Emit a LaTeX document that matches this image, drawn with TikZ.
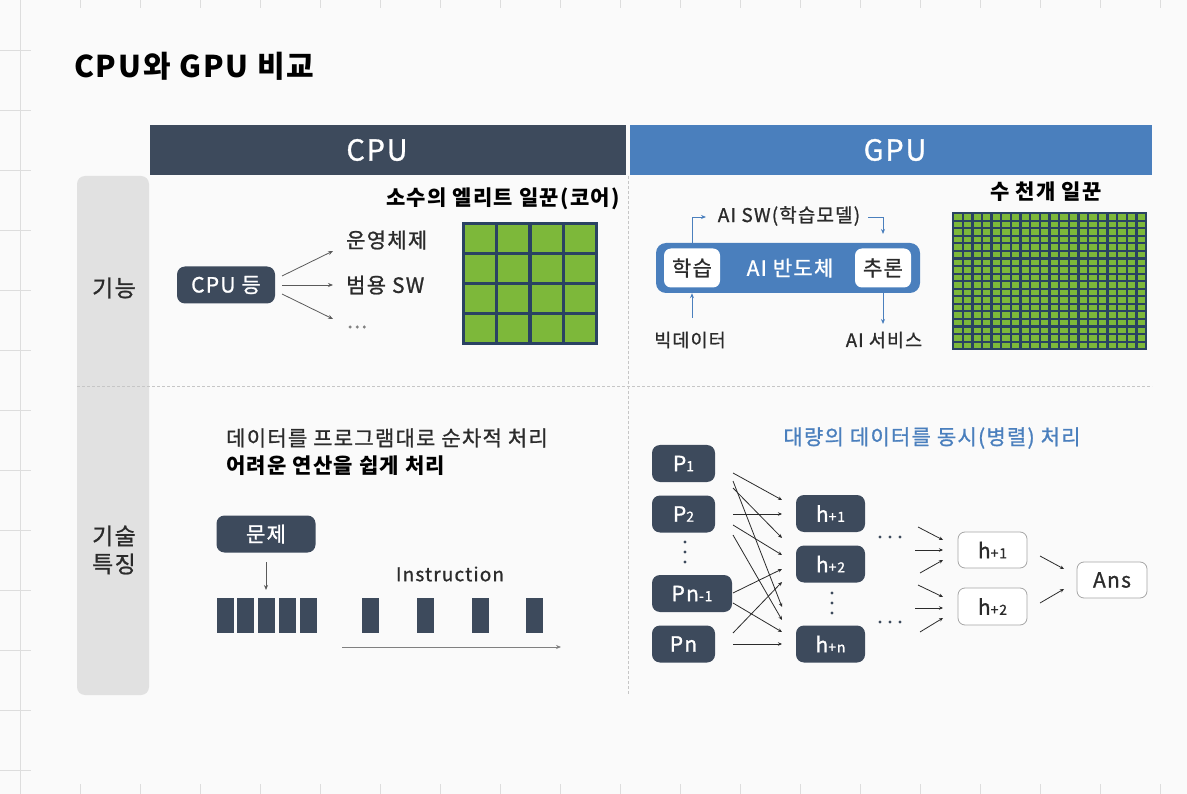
\documentclass[tikz,border=0pt]{standalone}
\usepackage{fontspec}
\setmainfont{Noto Sans CJK KR}[LetterSpace=6]
\newfontfamily\medf{Noto Sans CJK KR}[LetterSpace=6, FakeBold=1.0]
\usetikzlibrary{arrows.meta}
\definecolor{slate}{HTML}{3D4A5C}
\definecolor{gpublue}{HTML}{4A7FBD}
\definecolor{cellgreen}{HTML}{7DB83A}
\definecolor{navy}{HTML}{2A4262}
\definecolor{labelgray}{HTML}{E1E1E1}
\definecolor{bgc}{HTML}{FAFAFA}
\definecolor{gridc}{HTML}{DDDDDD}
\definecolor{txt}{HTML}{2B2B2B}
\definecolor{arrc}{HTML}{5A5A5A}
\newcommand{\fs}[1]{\medf\fontsize{#1}{#1}\selectfont}
\newcommand{\bfs}[1]{\normalfont\bfseries\fontsize{#1}{#1}\selectfont}
\newcommand{\sm}[1]{{\fontsize{14}{14}\selectfont #1}}
\tikzset{
  darkbox/.style={fill=slate, text=white, rounded corners=8pt, inner sep=0pt, font=\fs{21}},
  whitebox/.style={fill=white, draw=gray!70, line width=0.8pt, text=txt, rounded corners=7pt, inner sep=0pt, font=\fs{21}},
  hdr/.style={text=white, inner sep=0pt, font=\fs{29}},
  hdrbar/.style={inner sep=0pt, minimum height=50pt},
  lbl/.style={text=txt, inner sep=0pt, font=\fs{21}},
  arr/.style={draw=arrc, line width=0.8pt, -{Stealth[length=5pt,width=4pt]}},
  narr/.style={draw=txt, line width=0.8pt, -{Stealth[length=4pt,width=3.5pt]}},
  barr/.style={draw=gpublue, line width=0.9pt, -{Stealth[length=5pt,width=4pt]}},
  sep/.style={draw=gray!45, line width=0.8pt, dash pattern=on 3pt off 2pt},
  instr/.style={fill=slate, inner sep=0pt, minimum width=17pt, minimum height=35pt},
}
\begin{document}
\begin{tikzpicture}[x=1pt,y=-1pt]
\fill[bgc] (0,0) rectangle (1187,794);
\useasboundingbox (0,0) rectangle (1187,794);
% faint sheet grid
\draw[gridc, line width=0.6pt] (20,0) -- (20,794);
\foreach \yy in {50,110,...,770} \draw[gridc, line width=0.6pt] (0,\yy) -- (31,\yy);
\foreach \xx in {80,140,...,1160} {
  \draw[gridc, line width=0.6pt] (\xx,0) -- (\xx,8);
  \draw[gridc, line width=0.6pt] (\xx,784) -- (\xx,794);
}
% title
\node[anchor=west, inner sep=0pt, font=\bfs{30}, text=black] (title) at (74,66) {CPU와 GPU 비교};
% headers
\node[hdrbar, fill=slate, minimum width=476pt] (cpuh) at (388,150) {};
\node[hdrbar, fill=gpublue, minimum width=522pt] (gpuh) at (891,150) {};
\node[hdr] (cpuht) at (377,150) {CPU};
\node[hdr] (gpuht) at (895,150) {GPU};
% left label column
\node[fill=labelgray, rounded corners=8pt, minimum width=72pt, minimum height=519pt, inner sep=0pt] (col) at (113,435.5) {};
\node[lbl, font=\fs{23}] (l1) at (114,288) {기능};
\node[lbl, font=\fs{23}, align=center] (l2) at (114,550) {기술\\[5pt]특징};
% separators
\draw[sep] (77,386) -- (1152,386);
\draw[sep] (628,176) -- (628,695);

% ---------- CPU function ----------
\node[darkbox, minimum width=98pt, minimum height=37pt] (cpu) at (226,285) {CPU 등};
\coordinate (c1) at (282,276); \coordinate (c2) at (282,285); \coordinate (c3) at (282,294);
\coordinate (t1) at (333,251); \coordinate (t2) at (333,285); \coordinate (t3) at (333,319);
\draw[arr] (c1) -- (t1);
\draw[arr] (c2) -- (t2);
\draw[arr] (c3) -- (t3);
\node[lbl, anchor=west] (os) at (346,240) {운영체제};
\node[lbl, anchor=west] (sw) at (346,285) {범용 SW};
\node[lbl, anchor=west, text=gray] (etc) at (347,327) {...};
\node[lbl, font=\bfs{21}, text=black] (cpugt) at (503,199) {소수의 엘리트 일꾼(코어)};
\fill[navy] (462,222) rectangle (598,345);
\foreach \i in {0,...,3} \foreach \j in {0,...,3}
  \fill[cellgreen] ({465+\i*33.25},{225+\j*30}) rectangle +(30,27);

% ---------- GPU function ----------
\node[fill=gpublue, rounded corners=10pt, minimum width=264pt, minimum height=50pt, inner sep=0pt] (chip) at (788,268) {};
\node[text=white, inner sep=0pt, font=\fs{21}] (chipt) at (790,268) {AI 반도체};
\node[fill=white, text=txt, rounded corners=7pt, inner sep=0pt, minimum width=56pt, minimum height=39pt, font=\fs{21}] (learn) at (692,268) {학습};
\node[fill=white, text=txt, rounded corners=7pt, inner sep=0pt, minimum width=56pt, minimum height=39pt, font=\fs{21}] (infer) at (883,268) {추론};
\node[lbl, font=\fs{19}] (aisw) at (789,216) {AI SW(학습모델)};
\coordinate (sw1) at (692,217); \coordinate (sw2) at (706,217);
\coordinate (sw3) at (868,217); \coordinate (sw4) at (883,217); \coordinate (sw5) at (883,234);
\draw[barr] (chip.north -| learn) -- (sw1) -- (sw2);
\draw[barr] (sw3) -- (sw4) -- (sw5);
\node[lbl, font=\fs{18.5}] (big) at (690,340) {빅데이터};
\node[lbl, font=\fs{18.5}] (svc) at (884,340) {AI 서비스};
\coordinate (bigtop) at (692,318);
\coordinate (svctop) at (883,324);
\draw[barr] (bigtop) -- (chip.south -| learn);
\draw[barr] (chip.south -| infer) -- (svctop);
\node[lbl, font=\bfs{21}, text=black] (gpugt) at (1046,192) {수 천개 일꾼};
\fill[navy] (952,212) rectangle (1147,350);
\foreach \i in {0,...,19} \foreach \j in {0,...,17}
  \fill[cellgreen] ({954.2+\i*9.65},{214.2+\j*7.56}) rectangle +(7.3,5.4);

% ---------- CPU tech ----------
\node[lbl, anchor=west, text=txt] (d1) at (226,438) {데이터를 프로그램대로 순차적 처리};
\node[lbl, anchor=west, font=\bfs{21}, text=black] (d2) at (226,466) {어려운 연산을 쉽게 처리};
\node[darkbox, minimum width=99pt, minimum height=37pt] (prob) at (266,534) {문제};
\node[instr] (b1) at (225,615.5) {};
\node[instr] (b2) at (245.5,615.5) {};
\node[instr] (b3) at (266,615.5) {};
\node[instr] (b4) at (287,615.5) {};
\node[instr] (b5) at (308,615.5) {};
\coordinate (pa) at (266,562); \coordinate (pb) at (266,590);
\draw[arr] (pa) -- (pb);
\node[instr] (i1) at (370.5,615.5) {};
\node[instr] (i2) at (425.5,615.5) {};
\node[instr] (i3) at (480.5,615.5) {};
\node[instr] (i4) at (534.5,615.5) {};
\node[lbl, font=\fs{19}] (ins) at (450,574) {Instruction};
\coordinate (as) at (342,647); \coordinate (ae) at (561,647);
\draw[arr, draw=gray] (as) -- (ae);

% ---------- GPU tech ----------
\node[lbl, text=gpublue] (par) at (932,438) {대량의 데이터를 동시(병렬) 처리};
\node[darkbox, minimum width=63pt, minimum height=37pt] (p1) at (683.5,463.5) {P\sm{1}};
\node[darkbox, minimum width=63pt, minimum height=37pt] (p2) at (683.5,514) {P\sm{2}};
\node[darkbox, minimum width=80pt, minimum height=37pt] (pn1) at (692,593.5) {Pn\sm{-1}};
\node[darkbox, minimum width=63pt, minimum height=37pt] (pn) at (683.5,644) {Pn};
\foreach \yy in {542,552,562} \fill[slate] (685,\yy) circle (1.6);
\node[darkbox, minimum width=69pt, minimum height=37pt] (h1) at (830.5,513.5) {h\sm{+1}};
\node[darkbox, minimum width=69pt, minimum height=37pt] (h2) at (830.5,564) {h\sm{+2}};
\node[darkbox, minimum width=69pt, minimum height=37pt] (hn) at (830.5,644) {h\sm{+n}};
\foreach \yy in {593,603,613} \fill[slate] (832,\yy) circle (1.6);
% crossing connections
\foreach \sy/\ey in {473/500, 481/607, 488/538, 514/514, 525/555, 535/620, 593/569, 603/632, 633/582, 644/644}
  \draw[narr] (733,\sy) -- (782,\ey);
\foreach \xx in {880,890,900} { \fill[slate] (\xx,537) circle (1.6); \fill[slate] (\xx,622) circle (1.6); }
% second layer
\node[whitebox, minimum width=69pt, minimum height=36pt] (g1) at (992.5,550) {h\sm{+1}};
\node[whitebox, minimum width=69pt, minimum height=37pt] (g2) at (992.5,606.5) {h\sm{+2}};
\node[whitebox, minimum width=70pt, minimum height=36pt] (ans) at (1112,580) {Ans};
\foreach \sx/\sy/\ey in {918/527/540, 915/550/550, 920/573/560, 918/585/597, 915/608/608, 920/632/618}
  \draw[narr] (\sx,\sy) -- (943,\ey);
\draw[narr] (1040,556) -- (1064,569);
\draw[narr] (1040,603) -- (1064,589);
\end{tikzpicture}
\end{document}
